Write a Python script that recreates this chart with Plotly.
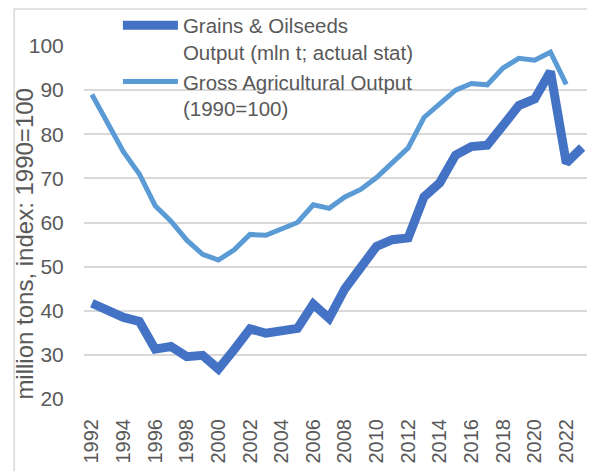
import plotly.graph_objects as go

years = list(range(1992, 2024))
grains = [41.7, 40.0, 38.5, 37.6, 31.3, 31.9, 29.6, 29.9, 26.8, 31.2, 35.9, 34.9,
          35.7, 36.0, 41.5, 38.3, 45.0, 50.0, 54.6, 56.1, 56.5, 65.8, 69.0, 75.3,
          77.2, 77.5, 82.0, 86.5, 88.0, 94.2, 73.5, 77.0]
gross_years = list(range(1992, 2023))
gross = [89.0, 82.6, 76.0, 71.0, 63.8, 60.3, 56.0, 52.8, 51.5, 53.8, 57.3, 57.1,
         58.7, 60.0, 64.0, 63.2, 65.8, 67.5, 70.2, 73.7, 76.9, 83.8, 87.0, 90.0,
         91.5, 91.2, 95.0, 97.2, 96.8, 98.6, 91.3]
tick_years = [str(y) for y in range(1992, 2024, 2)]

names = ["Grains & Oilseeds<br>Output (mln t; actual stat)",
         "Gross Agricultural Output<br>(1990=100)"]
y_title = "million tons, index: 1990=100"

cats = [str(y) for y in years]

fig = go.Figure()
fig.add_trace(go.Scatter(x=cats, y=grains, mode="lines",
                         name=names[0], line=dict(color="#4472C4", width=9)))
fig.add_trace(go.Scatter(x=[str(y) for y in gross_years], y=gross, mode="lines",
                         name=names[1], line=dict(color="#5B9BD5", width=5)))

fig.update_layout(
    width=587, height=463,
    paper_bgcolor="white", plot_bgcolor="white",
    margin=dict(l=76, r=5, t=38, b=72, autoexpand=False),
    font=dict(family="Liberation Sans, Arial, sans-serif", color="#595959", size=21),
    legend=dict(x=0.067, y=1.115, xanchor="left", yanchor="top",
                bgcolor="rgba(0,0,0,0)", font=dict(size=20.5, color="#595959"),
                itemwidth=55, valign="top", tracegroupgap=0),
    showlegend=True,
)
fig.update_xaxes(type="category", categoryorder="array", categoryarray=cats,
                 range=[-0.5, len(cats) - 0.5], automargin=False,
                 tickmode="array", tickvals=tick_years, ticktext=tick_years,
                 tickangle=-90, showgrid=False, showline=False,
                 ticks="outside", ticklen=11, tickcolor="rgba(0,0,0,0)",
                 tickfont=dict(size=20, color="#595959"))
fig.update_yaxes(range=[20, 100], dtick=10, showgrid=True, gridcolor="#D9D9D9",
                 gridwidth=1.5, zeroline=False, showline=False,
                 ticks="outside", ticklen=15, tickcolor="rgba(0,0,0,0)",
                 automargin=False,
                 tickfont=dict(size=21, color="#595959"))
fig.add_annotation(text=y_title, textangle=-90, xref="paper", yref="paper",
                   x=-0.118, y=0.441, xanchor="center", yanchor="middle",
                   showarrow=False, font=dict(size=24, color="#595959"))
fig.add_shape(type="rect", xref="paper", yref="paper",
              x0=-0.138, x1=1.03, y0=-0.3, y1=1.105,
              line=dict(color="#D9D9D9", width=1.5), fillcolor="rgba(0,0,0,0)")
fig.write_html("out.html")
